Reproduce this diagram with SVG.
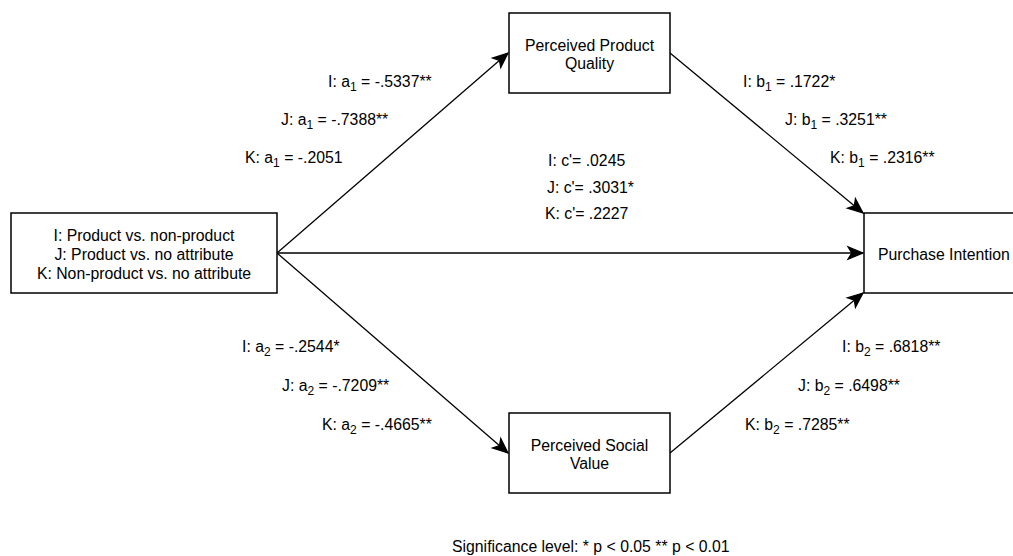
<svg xmlns="http://www.w3.org/2000/svg" width="1013" height="556" viewBox="0 0 1013 556">
<defs>
<style>
text{font-family:"Liberation Sans",Arial,Helvetica,sans-serif;font-size:15.8px;fill:#000;}
.c{text-anchor:middle;}
.box{fill:#fff;stroke:#000;stroke-width:1.5;}
.edge{fill:none;stroke:#000;stroke-width:1.3;marker-end:url(#arr);}
.s{font-size:12px;}
</style>
<marker id="arr" markerUnits="userSpaceOnUse" orient="auto" refX="0" refY="0" markerWidth="20" markerHeight="20" viewBox="-14 -7 16 14" overflow="visible">
<path d="M0,0 L-12,-5 L-9,0 L-12,5 Z" fill="#000" stroke="#000" stroke-width="1"/>
</marker>
</defs>
<rect width="1013" height="556" fill="#fff"/>
<g id="connectors">
<line class="edge" x1="277" y1="253" x2="508" y2="53"/>
<line class="edge" x1="277" y1="253" x2="508" y2="453"/>
<line class="edge" x1="277" y1="253" x2="863" y2="253"/>
<line class="edge" x1="670" y1="53" x2="863" y2="213"/>
<line class="edge" x1="670" y1="453" x2="863" y2="293"/>
</g>
<g id="node-source">
<rect class="box" x="11" y="213" width="266" height="80"/>
<text class="c" x="144" y="241">I: Product vs. non-product</text>
<text class="c" x="144" y="260">J: Product vs. no attribute</text>
<text class="c" x="144" y="279">K: Non-product vs. no attribute</text>
</g>
<g id="node-quality">
<rect class="box" x="509" y="13" width="161" height="80"/>
<text class="c" x="589.5" y="50.5">Perceived Product</text>
<text class="c" x="589.5" y="68.5">Quality</text>
</g>
<g id="node-social">
<rect class="box" x="509" y="413" width="161" height="80"/>
<text class="c" x="589.5" y="450.5">Perceived Social</text>
<text class="c" x="589.5" y="468.5">Value</text>
</g>
<g id="node-purchase">
<rect class="box" x="864" y="213" width="165" height="80"/>
<text x="878" y="260">Purchase Intention</text>
</g>
<g id="labels">
<text x="328" y="87">I: a<tspan class="s" dy="4">1</tspan><tspan dy="-4"> = -.5337**</tspan></text>
<text x="281" y="125">J: a<tspan class="s" dy="4">1</tspan><tspan dy="-4"> = -.7388**</tspan></text>
<text x="245" y="163">K: a<tspan class="s" dy="4">1</tspan><tspan dy="-4"> = -.2051</tspan></text>
<text x="548" y="166">I: c'= .0245</text>
<text x="547" y="192.5">J: c'= .3031*</text>
<text x="545" y="219">K: c'= .2227</text>
<text x="743" y="87">I: b<tspan class="s" dy="4">1</tspan><tspan dy="-4"> = .1722*</tspan></text>
<text x="785" y="125">J: b<tspan class="s" dy="4">1</tspan><tspan dy="-4"> = .3251**</tspan></text>
<text x="830" y="163">K: b<tspan class="s" dy="4">1</tspan><tspan dy="-4"> = .2316**</tspan></text>
<text x="242" y="352">I: a<tspan class="s" dy="4">2</tspan><tspan dy="-4"> = -.2544*</tspan></text>
<text x="282" y="391">J: a<tspan class="s" dy="4">2</tspan><tspan dy="-4"> = -.7209**</tspan></text>
<text x="322" y="430">K: a<tspan class="s" dy="4">2</tspan><tspan dy="-4"> = -.4665**</tspan></text>
<text x="842" y="352">I: b<tspan class="s" dy="4">2</tspan><tspan dy="-4"> = .6818**</tspan></text>
<text x="798" y="391">J: b<tspan class="s" dy="4">2</tspan><tspan dy="-4"> = .6498**</tspan></text>
<text x="745" y="430">K: b<tspan class="s" dy="4">2</tspan><tspan dy="-4"> = .7285**</tspan></text>
<text x="452" y="552">Significance level: * p &lt; 0.05 ** p &lt; 0.01</text>
</g>
</svg>
